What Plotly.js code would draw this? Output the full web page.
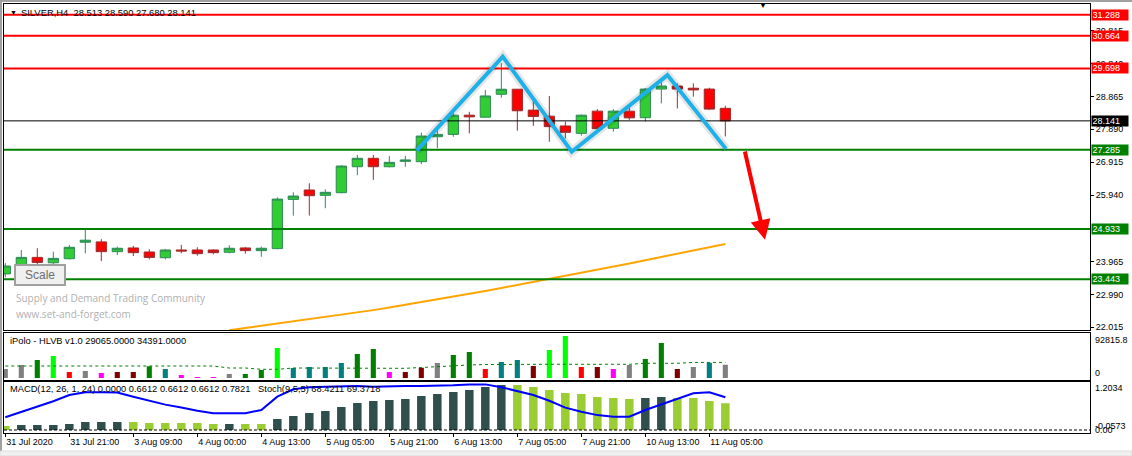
<!DOCTYPE html>
<html><head><meta charset="utf-8">
<script src="https://cdn.plot.ly/plotly-3.0.1.min.js"></script>
<style>html,body{margin:0;padding:0;background:#fff;}#chart{width:1132px;height:456px;}</style>
</head><body><div id="chart"></div>
<script>
// ---------- DATA ----------
const opens  = [23.60,23.864,24.09,23.93,24.05,24.54,24.55,24.26,24.37,24.25,24.08,24.31,24.31,24.31,24.24,24.37,24.29,24.35,25.81,26.09,25.93,26.01,26.78,27.03,26.78,26.94,26.93,27.67,27.74,28.31,28.25,28.93,29.08,28.46,28.28,27.99,27.77,28.43,27.92,28.43,28.235,29.085,29.175,29.11,29.085,28.513];
const highs  = [23.92,24.31,24.36,24.26,24.46,24.92,24.63,24.41,24.43,24.33,24.34,24.46,24.39,24.33,24.45,24.40,24.41,25.87,26.02,26.29,26.11,26.83,27.13,27.13,27.10,27.10,27.79,27.92,28.37,28.41,29.06,29.85,29.09,28.76,28.88,28.12,28.33,28.49,28.49,28.56,29.11,29.35,29.255,29.255,29.125,28.590];
const lows   = [23.50,23.75,23.80,23.86,24.03,24.21,23.98,24.16,24.13,24.03,24.03,24.21,24.14,24.18,24.21,24.20,24.11,24.33,25.33,25.33,25.55,25.99,26.53,26.39,26.76,26.78,26.86,27.33,27.67,27.77,28.25,28.83,27.85,27.99,27.52,27.62,27.70,27.90,27.82,28.17,28.12,28.66,28.51,28.86,28.46,27.680];
const closes = [23.834,24.09,23.94,24.06,24.39,24.60,24.26,24.36,24.23,24.09,24.31,24.28,24.20,24.23,24.36,24.29,24.36,25.82,25.91,25.92,26.02,26.80,27.03,26.78,26.91,26.98,27.69,27.74,28.31,28.26,28.88,29.08,28.44,28.27,27.97,27.80,28.31,27.91,28.43,28.23,29.085,29.175,29.085,29.06,28.49,28.141];
const maPrice = [null,null,null,null,null,null,null,null,null,null,null,null,null,null,21.926,21.991,22.057,22.122,22.187,22.252,22.317,22.383,22.448,22.525,22.602,22.680,22.757,22.834,22.911,22.997,23.089,23.181,23.270,23.362,23.454,23.543,23.635,23.727,23.819,23.908,24.006,24.104,24.199,24.297,24.392,24.490];
const volumes = [19900,28700,39800,48600,13300,15500,11000,13300,13300,25900,19900,6600,2200,2200,8800,8800,17700,66300,22100,24300,24300,33200,53000,64100,13300,13300,22800,33200,50800,57500,19900,35400,39800,26500,61900,92816,24300,24300,19900,28700,42000,77400,19900,24300,33800,29065];
const volClass = ['gray','gray','green','lime','red','gray','magenta','maroon','maroon','green','teal','magenta','magenta','magenta','gray','green','green','lime','teal','teal','teal','teal','green','green','magenta','maroon','maroon','gray','green','green','red','teal','teal','maroon','lime','lime','red','maroon','magenta','gray','green','green','maroon','gray','teal','gray'];
const volMA = [26500,26500,26500,26500,26500,26500,26500,26500,26500,26500,26500,26500,26500,26500,22100,22100,19200,19200,22100,22100,22100,22100,22100,21400,21400,21400,23200,25400,27200,28700,29800,30300,30300,30300,30300,30300,30300,30300,30300,30300,32500,32500,32500,34400,34400,34391];
const macd = [0.099,0.124,0.124,0.124,0.149,0.199,0.199,0.199,0.199,0.174,0.174,0.174,0.174,0.149,0.149,0.149,0.149,0.273,0.347,0.422,0.471,0.571,0.670,0.720,0.744,0.769,0.844,0.893,0.943,0.993,1.067,1.117,1.117,1.067,0.993,0.918,0.893,0.819,0.794,0.769,0.794,0.819,0.794,0.794,0.720,0.6612];
const macdUp = [0,1,1,1,1,1,1,1,0,0,0,0,0,0,1,0,0,1,1,1,1,1,1,1,1,1,1,1,1,1,1,1,0,0,0,0,0,0,0,0,1,1,0,0,0,0];
const stoch = [26.5,37.8,49,60,73,78.5,78.5,78,69.4,61,52.8,47,40,34.7,34.7,35,41.7,69.4,84.7,89,90.3,90.5,91.7,90.3,91.7,91.7,91.7,91.7,93,95,95,89,81,73,61,46.5,38,31,27.8,27.8,41.7,52.8,65,76.4,78.5,68.1];
const tickBars = [0,4,8,12,16,20,24,28,32,36,40,44];
const tickLabels = ['31 Jul 2020','31 Jul 21:00','3 Aug 09:00','4 Aug 00:00','4 Aug 13:00','5 Aug 05:00','5 Aug 21:00','6 Aug 13:00','7 Aug 05:00','7 Aug 21:00','10 Aug 13:00','11 Aug 05:00'];
const priceTicks = [22.015,22.990,23.965,25.940,26.915,27.890,28.865,29.840,30.815];
const levelValues = [31.288,30.664,29.698,28.141,27.285,24.933,23.443];
const levelKinds  = ['res','res','res','bid','sup','sup','sup'];
const zigzagBars   = [25.71,31.09,35.40,41.38,45.04];
const zigzagPrices = [27.255,30.045,27.225,29.50,27.31];
const arrowFrom = [46.2,27.276];
const arrowTo   = [47.48,24.61];

// ---------- LAYOUT HELPERS ----------
const L=4,R=1090,T=4,B=433;
const px = x => (x-L)/(R-L);
const py = y => (B-y)/(B-T);
const FONT = 'Liberation Sans, Arial, sans-serif';
const idx = opens.map((_,i)=>i);
const volColors = {gray:'#808080',green:'#008000',lime:'#00ff00',red:'#ff0000',magenta:'#ff00ff',maroon:'#800000',teal:'#008080'};
const levelColors = {res:'#ff0000',sup:'#008000',bid:'#000000'};

const traces = [
 {type:'candlestick',x:idx,open:opens,high:highs,low:lows,close:closes,xaxis:'x',yaxis:'y',
  increasing:{line:{color:'#2e8b57',width:1},fillcolor:'#32cd32'},
  decreasing:{line:{color:'#a52a2a',width:1},fillcolor:'#ff0000'},
  whiskerwidth:0,hoverinfo:'skip',showlegend:false},
 {type:'scatter',mode:'lines',x:idx,y:maPrice,xaxis:'x',yaxis:'y',line:{color:'#ffa500',width:2},hoverinfo:'skip',showlegend:false},
 {type:'bar',x:idx,y:volumes,xaxis:'x2',yaxis:'y2',width:0.32,marker:{color:volClass.map(c=>volColors[c]),line:{width:0}},hoverinfo:'skip',showlegend:false},
 {type:'scatter',mode:'lines',x:idx,y:volMA,xaxis:'x2',yaxis:'y2',line:{color:'#008000',width:1,dash:'3px,3px'},hoverinfo:'skip',showlegend:false},
 {type:'bar',x:idx,y:macd,xaxis:'x3',yaxis:'y3',width:0.53,marker:{color:macdUp.map(u=>u?'#2f4f4f':'#9acd32'),line:{width:0}},hoverinfo:'skip',showlegend:false},
 {type:'scatter',mode:'lines',x:idx,y:stoch,xaxis:'x3',yaxis:'y4',line:{color:'#0000ff',width:2},hoverinfo:'skip',showlegend:false}
];

const axBase = {showgrid:false,zeroline:false,showline:true,mirror:true,linecolor:'#000',linewidth:1,fixedrange:true};
const xr = [-0.081,67.79];
const shapes = [];
levelValues.forEach((v,i)=>{
  shapes.push({type:'line',xref:'x domain',yref:'y',x0:0,x1:1,y0:v,y1:v,layer:'above',
    line:{color:levelColors[levelKinds[i]],width:levelKinds[i]==='bid'?1:2}});
});
// MACD zero level
shapes.push({type:'line',xref:'x3 domain',yref:'y3',x0:0,x1:1,y0:0,y1:0,line:{color:'#000',width:1,dash:'3px,2px'}});
// zigzag pattern
let zz = zigzagBars.map((b,i)=>(i?'L':'M')+b+','+zigzagPrices[i]).join(' ');
shapes.push({type:'path',xref:'x',yref:'y',path:zz,layer:'above',line:{color:'rgba(0,0,0,0.10)',width:9}});
shapes.push({type:'path',xref:'x',yref:'y',path:zz,layer:'above',line:{color:'#1eb0e8',width:4}});
// Scale button
shapes.push({type:'rect',xref:'paper',yref:'paper',x0:px(15),x1:px(65),y0:py(285),y1:py(265),fillcolor:'#f0f0f0',line:{color:'#a0a0a0',width:2},layer:'above'});
// window frame
shapes.push({type:'line',xref:'paper',yref:'paper',x0:px(1),x1:px(1),y0:py(0),y1:py(451),line:{color:'#a0a0a0',width:2}});
shapes.push({type:'line',xref:'paper',yref:'paper',x0:px(0),x1:px(1132),y0:py(1),y1:py(1),line:{color:'#a0a0a0',width:2}});
shapes.push({type:'rect',xref:'paper',yref:'paper',x0:px(0),x1:px(1132),y0:py(456),y1:py(451),fillcolor:'#f0f0f0',line:{color:'#dcdcdc',width:1}});

const annotations = [];
levelValues.forEach((v,i)=>{
  annotations.push({xref:'paper',yref:'y',x:1,y:v,xanchor:'left',yanchor:'middle',xshift:1,showarrow:false,
    text:v.toFixed(3),font:{family:FONT,size:9,color:'#fff'},bgcolor:levelColors[levelKinds[i]],width:35,height:9,borderpad:0.5,align:'left'});
});
const txt = (x,y,t,o={}) => Object.assign({xref:'paper',yref:'paper',x:px(x),y:py(y),xanchor:'left',yanchor:'middle',showarrow:false,text:t,font:{family:FONT,size:9.3,color:'#000'}},o);
annotations.push(txt(8,12,'▼',{font:{family:FONT,size:7,color:'#000'}}));
annotations.push(txt(19,12,'SILVER,H4\u00a0\u00a028.513 28.590 27.680 28.141',{font:{family:FONT,size:9.4,color:'#000'}}));
annotations.push(txt(763,6,'▼',{xanchor:'center',font:{family:FONT,size:8,color:'#000'}}));
annotations.push(txt(8,341,'iPolo - HLVB v1.0 29065.0000 34391.0000'));
annotations.push(txt(8,389,'MACD(12, 26, 1, 24) 0.0000 0.6612 0.6612 0.6612 0.7821\u00a0\u00a0 Stoch(9,5,5) 68.4211 69.3718'));
annotations.push(txt(14,298,'Supply and Demand Trading Community',{font:{family:'Open Sans, sans-serif',size:10,color:'#b0b0b0'}}));
annotations.push(txt(14,314,'www.set-and-forget.com',{font:{family:'Open Sans, sans-serif',size:10,color:'#b0b0b0'}}));
annotations.push(txt(40,275,'Scale',{xanchor:'center',font:{family:FONT,size:12,color:'#6e6e6e'}}));
annotations.push(txt(1093,339.5,'92815.8',{font:{family:FONT,size:9,color:'#000'}}));
annotations.push(txt(1093,372.5,'0',{font:{family:FONT,size:9,color:'#000'}}));
annotations.push(txt(1093,388,'1.2034',{font:{family:FONT,size:9,color:'#000'}}));
annotations.push(txt(1093,426,'-0.0573',{font:{family:FONT,size:9,color:'#000'}}));
annotations.push(txt(1093,429.5,'0.00',{font:{family:FONT,size:9,color:'#000'}}));
annotations.push({xref:'x',yref:'y',axref:'x',ayref:'y',x:arrowTo[0],y:arrowTo[1],ax:arrowFrom[0],ay:arrowFrom[1],
  showarrow:true,arrowcolor:'#ff0000',arrowwidth:4,arrowhead:2,arrowsize:1,text:''});

const layout = {
  width:1132,height:456,margin:{l:L,r:1132-R,t:T,b:456-B,pad:0},
  paper_bgcolor:'#fff',plot_bgcolor:'#fff',showlegend:false,
  font:{family:FONT,size:9,color:'#000'},
  boxgap:0.2,boxgroupgap:0.2,
  xaxis:Object.assign({},axBase,{anchor:'y',range:xr,showticklabels:false,ticks:'',rangeslider:{visible:false}}),
  xaxis2:Object.assign({},axBase,{anchor:'y2',matches:'x',range:xr,showticklabels:false,ticks:''}),
  xaxis3:Object.assign({},axBase,{anchor:'y3',matches:'x',range:xr,tickmode:'array',tickvals:tickBars,ticktext:tickLabels,
     ticks:'outside',ticklen:3,tickcolor:'#000',ticklabelposition:'outside right',tickfont:{family:FONT,size:9,color:'#000'}}),
  yaxis:Object.assign({},axBase,{domain:[py(330),1],range:[21.935,31.609],side:'right',tickmode:'array',tickvals:priceTicks,
     ticktext:priceTicks.map(v=>v.toFixed(3)),ticks:'outside',ticklen:3,tickcolor:'#000',tickfont:{family:FONT,size:9,color:'#000'}}),
  yaxis2:Object.assign({},axBase,{domain:[py(379.5),py(333)],range:[-3315,99450],showticklabels:false,ticks:''}),
  yaxis3:Object.assign({},axBase,{domain:[0,py(381.5)],range:[-0.0744,1.2034],showticklabels:false,ticks:''}),
  yaxis4:{overlaying:'y3',anchor:'x3',range:[-6.25,101],visible:false,fixedrange:true},
  shapes:shapes,annotations:annotations
};
Plotly.newPlot('chart',traces,layout,{displayModeBar:false,staticPlot:true});
</script></body></html>
